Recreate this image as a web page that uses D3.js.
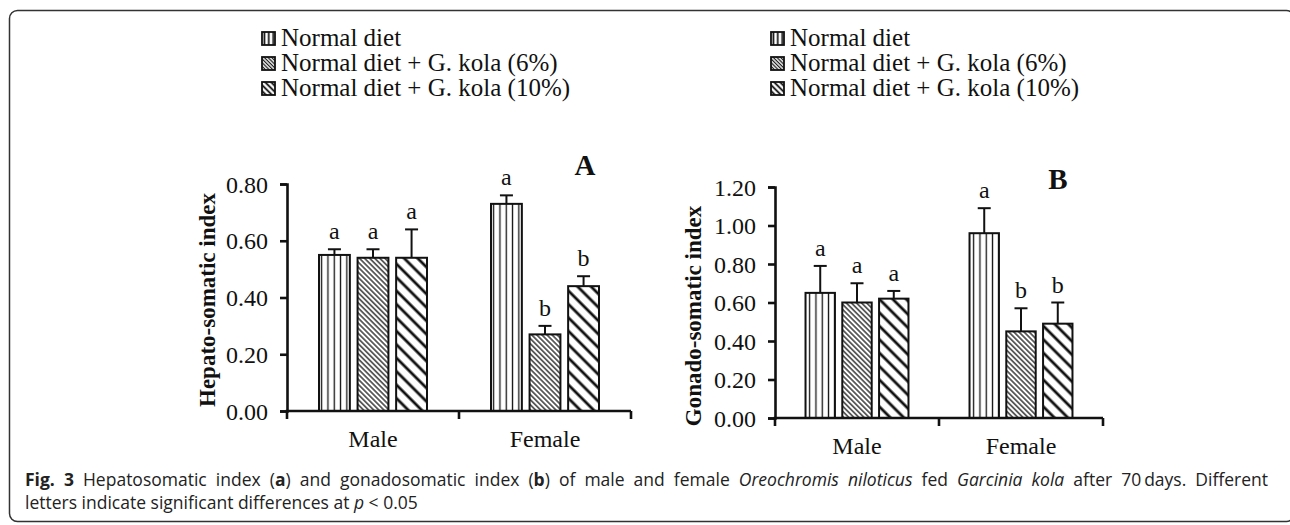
<!DOCTYPE html>
<html>
<head>
<meta charset="utf-8">
<script src="https://cdn.jsdelivr.net/npm/d3@7"></script>
<style>
  body { margin: 0; background: #fff; }
  svg { display: block; }
  .serif { font-family: "Liberation Serif", "Times New Roman", serif; fill: #111; }
  .caption { font-family: "Open Sans", "Noto Sans", sans-serif; font-size: 17.5px; fill: #222; }
</style>
</head>
<body>
<svg id="fig"></svg>
<script>
const size = {w: 1290, h: 525};
const svg = d3.select('svg#fig')
    .attr('width', size.w)
    .attr('height', size.h);

//DATA
const categories = ['Male', 'Female'];
const series = ['Normal diet', 'Normal diet + G. kola (6%)', 'Normal diet + G. kola (10%)'];

const hsiMean = [[0.55, 0.54, 0.54], [0.73, 0.27, 0.44]];
const hsiErr = [[0.02, 0.03, 0.10], [0.03, 0.03, 0.035]];
const hsiLetters = [['a', 'a', 'a'], ['a', 'b', 'b']];
const hsiTicks = [0, 0.2, 0.4, 0.6, 0.8];

const gsiMean = [[0.65, 0.60, 0.62], [0.96, 0.45, 0.49]];
const gsiErr = [[0.14, 0.10, 0.04], [0.13, 0.12, 0.11]];
const gsiLetters = [['a', 'a', 'a'], ['a', 'b', 'b']];
const gsiTicks = [0, 0.2, 0.4, 0.6, 0.8, 1.0, 1.2];

//PATTERNS
const defs = svg.append('defs');
const patternIds = ['vert', 'dense', 'wide'];

function makePattern(id, step, width, rotate, offset = 0) {
    let p = defs.append('pattern')
        .attr('id', id)
        .attr('patternUnits', 'userSpaceOnUse')
        .attr('x', offset)
        .attr('width', step)
        .attr('height', step);
    if (rotate) p.attr('patternTransform', `rotate(${rotate})`);
    p.append('rect').attr('width', step).attr('height', step).attr('fill', '#fff');
    if (rotate) {
        p.append('line').attr('x1', 0).attr('x2', step).attr('y1', step / 2).attr('y2', step / 2)
            .attr('stroke', '#111').attr('stroke-width', width);
    } else {
        p.append('line').attr('x1', step / 2).attr('x2', step / 2).attr('y1', 0).attr('y2', step)
            .attr('stroke', '#111').attr('stroke-width', width);
    }
}
makePattern('vert', 6.3, 1.3, 0);
makePattern('dense', 3.6, 1.25, 45);
makePattern('wide', 9.5, 2.8, 45);
makePattern('vert-l', 4.4, 1.7, 0, 0.2);
makePattern('dense-l', 2.6, 1.2, 45);
makePattern('wide-l', 4.2, 1.8, 45);

//FRAME
svg.append('rect')
    .attr('x', 9.5).attr('y', 10.5)
    .attr('width', 1285).attr('height', 511)
    .attr('rx', 8)
    .attr('fill', 'none')
    .attr('stroke', '#333')
    .attr('stroke-width', 1.5);

//LEGENDS
function drawLegend(x, y) {
    let g = svg.append('g').attr('transform', `translate(${x}, ${y})`);
    let rows = g.selectAll('g')
        .data(series)
        .join('g')
        .attr('transform', (d, i) => `translate(0, ${i * 25})`);
    rows.append('rect')
        .attr('width', 13).attr('height', 13)
        .attr('fill', (d, i) => `url(#${patternIds[i]}-l)`)
        .attr('stroke', '#111')
        .attr('stroke-width', 1.8);
    rows.append('text')
        .attr('class', 'serif')
        .attr('x', 19)
        .attr('y', 13.5)
        .style('font-size', '25px')
        .text(d => d);
}
drawLegend(262, 32);
drawLegend(771, 32);

//BAR PANEL
function drawPanel(opt) {
    let g = svg.append('g');

    let y = d3.scaleLinear()
        .domain([0, opt.ticks[opt.ticks.length - 1]])
        .range([opt.bottom, opt.top]);

    let x = d3.scaleBand()
        .domain(categories)
        .range([opt.left, opt.right]);

    let xs = d3.scaleBand()
        .domain(series)
        .range([0, x.bandwidth()])
        .paddingInner(0.2)
        .paddingOuter(0.83);

    //y axis
    let yAxis = g.append('g')
        .attr('transform', `translate(${opt.left}, 0)`)
        .call(d3.axisLeft(y).tickValues(opt.ticks).tickFormat(d3.format('.2f')).tickSize(7).tickPadding(12));
    yAxis.select('.domain').attr('stroke', '#111').attr('stroke-width', 2.6);
    yAxis.selectAll('.tick line').attr('stroke', '#111').attr('stroke-width', 2.6);
    yAxis.selectAll('.tick text')
        .attr('class', 'serif')
        .style('font-size', '24px')
        .attr('dy', '0.34em');

    //y label
    g.append('text')
        .attr('class', 'serif')
        .attr('transform', `translate(${opt.labelX}, ${opt.labelY}) rotate(-90)`)
        .attr('text-anchor', 'middle')
        .style('font-size', '23px')
        .style('font-weight', 'bold')
        .text(opt.label);

    //bars
    let groups = g.selectAll('g.group')
        .data(categories)
        .join('g')
        .classed('group', true)
        .attr('transform', d => `translate(${x(d)}, 0)`);

    let bars = groups.selectAll('g.bar')
        .data((c, ci) => series.map((s, si) => ({
            s: s, si: si,
            v: opt.mean[ci][si],
            e: opt.err[ci][si],
            l: opt.letters[ci][si]
        })))
        .join('g')
        .classed('bar', true);

    bars.append('rect')
        .attr('x', d => xs(d.s))
        .attr('y', d => y(d.v))
        .attr('width', xs.bandwidth())
        .attr('height', d => y(0) - y(d.v))
        .attr('fill', d => `url(#${patternIds[d.si]})`)
        .attr('stroke', '#111')
        .attr('stroke-width', 2);

    bars.append('line')
        .attr('x1', d => xs(d.s) + xs.bandwidth() / 2)
        .attr('x2', d => xs(d.s) + xs.bandwidth() / 2)
        .attr('y1', d => y(d.v))
        .attr('y2', d => y(d.v + d.e))
        .attr('stroke', '#111')
        .attr('stroke-width', 2);

    bars.append('line')
        .attr('x1', d => xs(d.s) + xs.bandwidth() / 2 - 6.5)
        .attr('x2', d => xs(d.s) + xs.bandwidth() / 2 + 6.5)
        .attr('y1', d => y(d.v + d.e))
        .attr('y2', d => y(d.v + d.e))
        .attr('stroke', '#111')
        .attr('stroke-width', 2);

    bars.append('text')
        .attr('class', 'serif')
        .attr('x', d => xs(d.s) + xs.bandwidth() / 2)
        .attr('y', d => y(d.v + d.e) - 10)
        .attr('text-anchor', 'middle')
        .style('font-size', '24px')
        .text(d => d.l);

    //x axis
    let xAxis = g.append('g')
        .attr('transform', `translate(0, ${opt.bottom})`);
    xAxis.append('line')
        .attr('x1', opt.left - 1.3).attr('x2', opt.right)
        .attr('stroke', '#111').attr('stroke-width', 2.6);
    xAxis.selectAll('line.tick')
        .data([opt.left, x('Female'), opt.right])
        .join('line')
        .classed('tick', true)
        .attr('x1', d => d).attr('x2', d => d)
        .attr('y1', 0).attr('y2', 8)
        .attr('stroke', '#111').attr('stroke-width', 2.6);
    xAxis.selectAll('text')
        .data(categories)
        .join('text')
        .attr('class', 'serif')
        .attr('x', d => x(d) + x.bandwidth() / 2)
        .attr('y', 36)
        .attr('text-anchor', 'middle')
        .style('font-size', '24px')
        .text(d => d);

    //panel letter
    g.append('text')
        .attr('class', 'serif')
        .attr('x', opt.tagX)
        .attr('y', opt.tagY)
        .attr('text-anchor', 'middle')
        .style('font-size', '29px')
        .style('font-weight', 'bold')
        .text(opt.tag);
}

drawPanel({
    left: 287, right: 631, top: 184, bottom: 411,
    ticks: hsiTicks, mean: hsiMean, err: hsiErr, letters: hsiLetters,
    label: 'Hepato-somatic index', labelX: 215, labelY: 300,
    tag: 'A', tagX: 585, tagY: 175
});

drawPanel({
    left: 775, right: 1103, top: 187, bottom: 418,
    ticks: gsiTicks, mean: gsiMean, err: gsiErr, letters: gsiLetters,
    label: 'Gonado-somatic index', labelX: 701, labelY: 316,
    tag: 'B', tagX: 1058, tagY: 189
});

//CAPTION
let cap1 = svg.append('text')
    .attr('class', 'caption')
    .attr('x', 25)
    .attr('y', 486);
cap1.append('tspan').style('font-weight', 'bold').text('Fig. 3');
cap1.append('tspan').text(' Hepatosomatic index (');
cap1.append('tspan').style('font-weight', 'bold').text('a');
cap1.append('tspan').text(') and gonadosomatic index (');
cap1.append('tspan').style('font-weight', 'bold').text('b');
cap1.append('tspan').text(') of male and female ');
cap1.append('tspan').style('font-style', 'italic').text('Oreochromis niloticus');
cap1.append('tspan').text(' fed ');
cap1.append('tspan').style('font-style', 'italic').text('Garcinia kola');
cap1.append('tspan').text(' after 70\u2009days. Different');

//justify first caption line
let natural = cap1.node().getComputedTextLength();
let spaces = cap1.text().split(' ').length - 1;
let target = 1268 - 25;
if (natural < target) cap1.attr('word-spacing', (target - natural) / spaces);

let cap2 = svg.append('text')
    .attr('class', 'caption')
    .attr('x', 25)
    .attr('y', 509);
cap2.append('tspan').text('letters indicate significant differences at ');
cap2.append('tspan').style('font-style', 'italic').text('p');
cap2.append('tspan').text(' < 0.05');
</script>
</body>
</html>
